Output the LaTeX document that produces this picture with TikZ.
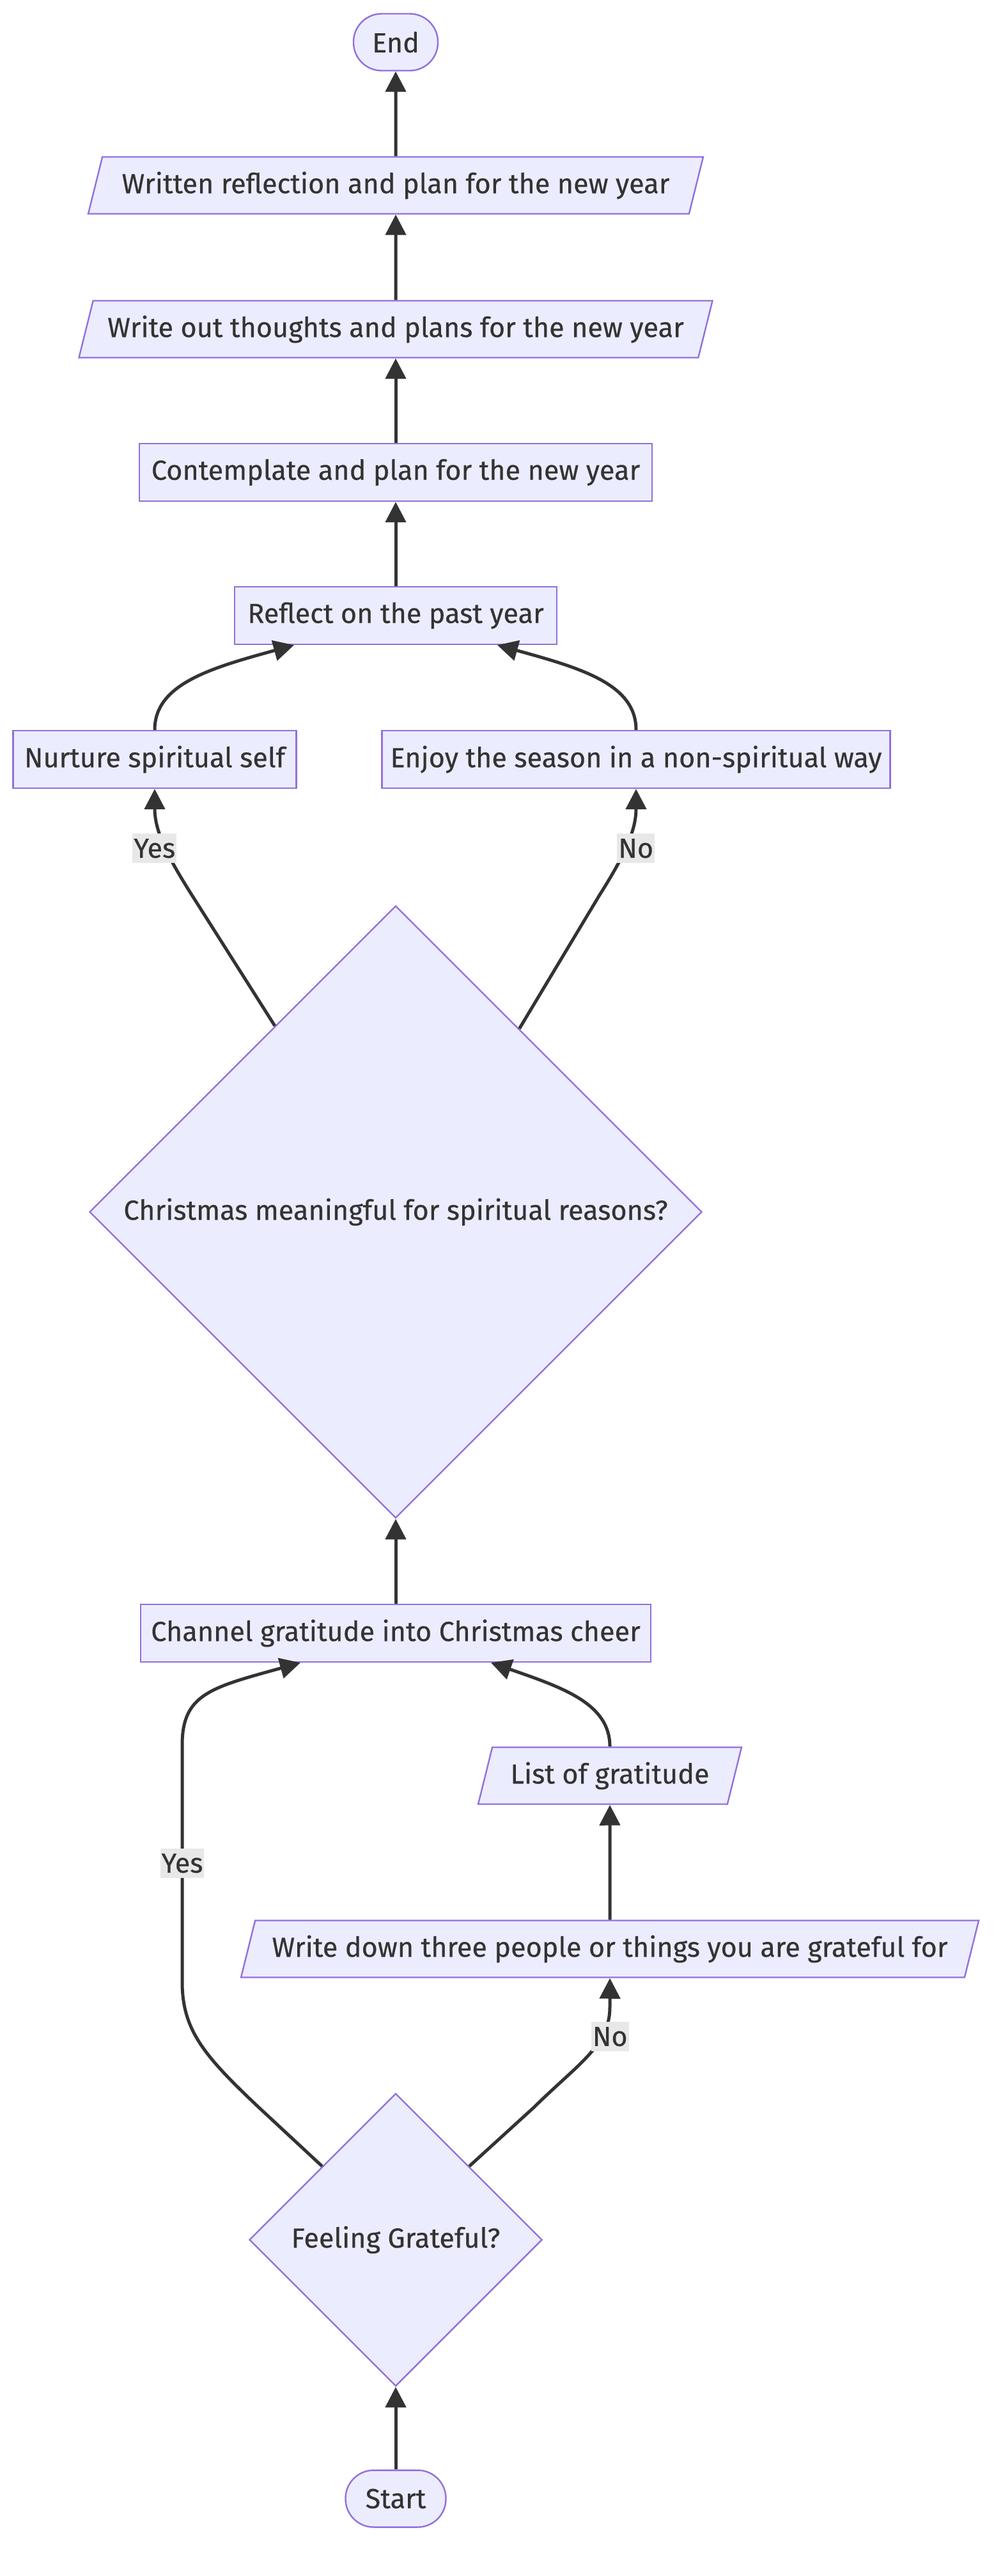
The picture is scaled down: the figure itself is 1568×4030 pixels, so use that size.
\documentclass[tikz,border=0pt]{standalone}
\usepackage{fontspec}
\setmainfont{Fira Sans}[FakeBold=0.4]
\usetikzlibrary{shapes.geometric,arrows.meta}
\definecolor{boxfill}{HTML}{ECECFF}
\definecolor{boxline}{HTML}{9370DB}
\definecolor{edgeline}{HTML}{333333}
\definecolor{labelfill}{HTML}{E8E8E8}
\tikzset{
    base/.style={draw=boxline, fill=boxfill, line width=0.6pt, text=edgeline,
        font=\fontsize{10.8pt}{12pt}\selectfont, inner sep=0pt},
    term/.style={base, rectangle, rounded corners=11pt, minimum height=22.25pt},
    process/.style={base, rectangle, minimum height=22.5pt},
    io/.style={base, trapezium, trapezium left angle=62.7, trapezium right angle=117.3,
        trapezium stretches body, minimum height=22.25pt},
    decision/.style={base, diamond, aspect=1},
    flow/.style={draw=edgeline, line width=1.25pt, -{Triangle[length=8pt,width=8pt]}},
    answer/.style={fill=labelfill, text=edgeline, font=\fontsize{10.8pt}{12pt}\selectfont,
        inner xsep=0.5pt, inner ysep=2pt}
}
\begin{document}
\begin{tikzpicture}[x=0.25pt, y=-0.25pt]
        \useasboundingbox (0,0) rectangle (1568,4030);
        \node[term, minimum width=39.25pt] (start) at (619,3909) {Start};
        \node[decision, minimum width=114.5pt, minimum height=114.5pt] (grateful) at (619,3504) {Feeling Grateful?};
        \node[io, minimum width=288.5pt] (writedown) at (954,3049) {Write down three people or things you are grateful for};
        \node[io, minimum width=103pt] (gratlist) at (954,2778) {List of gratitude};
        \node[process, minimum width=199.5pt] (channel) at (619,2555) {Channel gratitude into Christmas cheer};
        \node[decision, minimum width=239.5pt, minimum height=239.5pt] (meaning) at (619,1896) {Christmas meaningful for spiritual reasons?};
        \node[process, minimum width=110.75pt] (nurture) at (242,1188) {Nurture spiritual self};
        \node[process, minimum width=198.75pt] (enjoy) at (995,1188) {Enjoy the season in a non-spiritual way};
        \node[process, minimum width=126pt] (reflect) at (619,963) {Reflect on the past year};
        \node[process, minimum width=200.5pt] (contemplate) at (619,739) {Contemplate and plan for the new year};
        \node[io, minimum width=247.75pt] (writeout) at (619,515) {Write out thoughts and plans for the new year};
        \node[io, minimum width=240.5pt] (written) at (619,290) {Written reflection and plan for the new year};
        \node[term, minimum width=33pt] (end) at (619,66) {End};
        \draw[flow] (start) -- (grateful);
        \draw[flow] (grateful.north west) -- (405,3297) .. controls (318,3215) and (285,3175) .. (285,3100)
            -- node[answer] {Yes} (285,2730) .. controls (285,2650) and (330,2640) .. ([xshift=-37.25pt]channel.south);
        \draw[flow] (grateful.north east) -- (835,3297) .. controls (905,3228) and (954,3200) .. node[answer, pos=0.75, xshift=2.25pt, yshift=-1.5pt] {No} (954,3140) -- (writedown);
        \draw[flow] (writedown) -- (gratlist);
        \draw[flow] (gratlist) .. controls (954,2665) and (880,2640) .. ([xshift=37.25pt]channel.south);
        \draw[flow] (channel) -- (meaning);
        \draw[flow] (meaning.123.5) -- (300,1400) .. controls (262,1340) and (242,1300) .. node[answer, xshift=-3.75pt, yshift=-2pt] {Yes} (nurture);
        \draw[flow] (meaning.56.5) -- (938,1400) .. controls (976,1340) and (995,1300) .. node[answer, xshift=3.5pt, yshift=-2pt] {No} (enjoy);
        \draw[flow] (nurture) .. controls (242,1070) and (330,1045) .. ([xshift=-39.75pt]reflect.south);
        \draw[flow] (enjoy) .. controls (995,1070) and (908,1045) .. ([xshift=39.75pt]reflect.south);
        \draw[flow] (reflect) -- (contemplate);
        \draw[flow] (contemplate) -- (writeout);
        \draw[flow] (writeout) -- (written);
        \draw[flow] (written) -- (end);
\end{tikzpicture}
\end{document}
